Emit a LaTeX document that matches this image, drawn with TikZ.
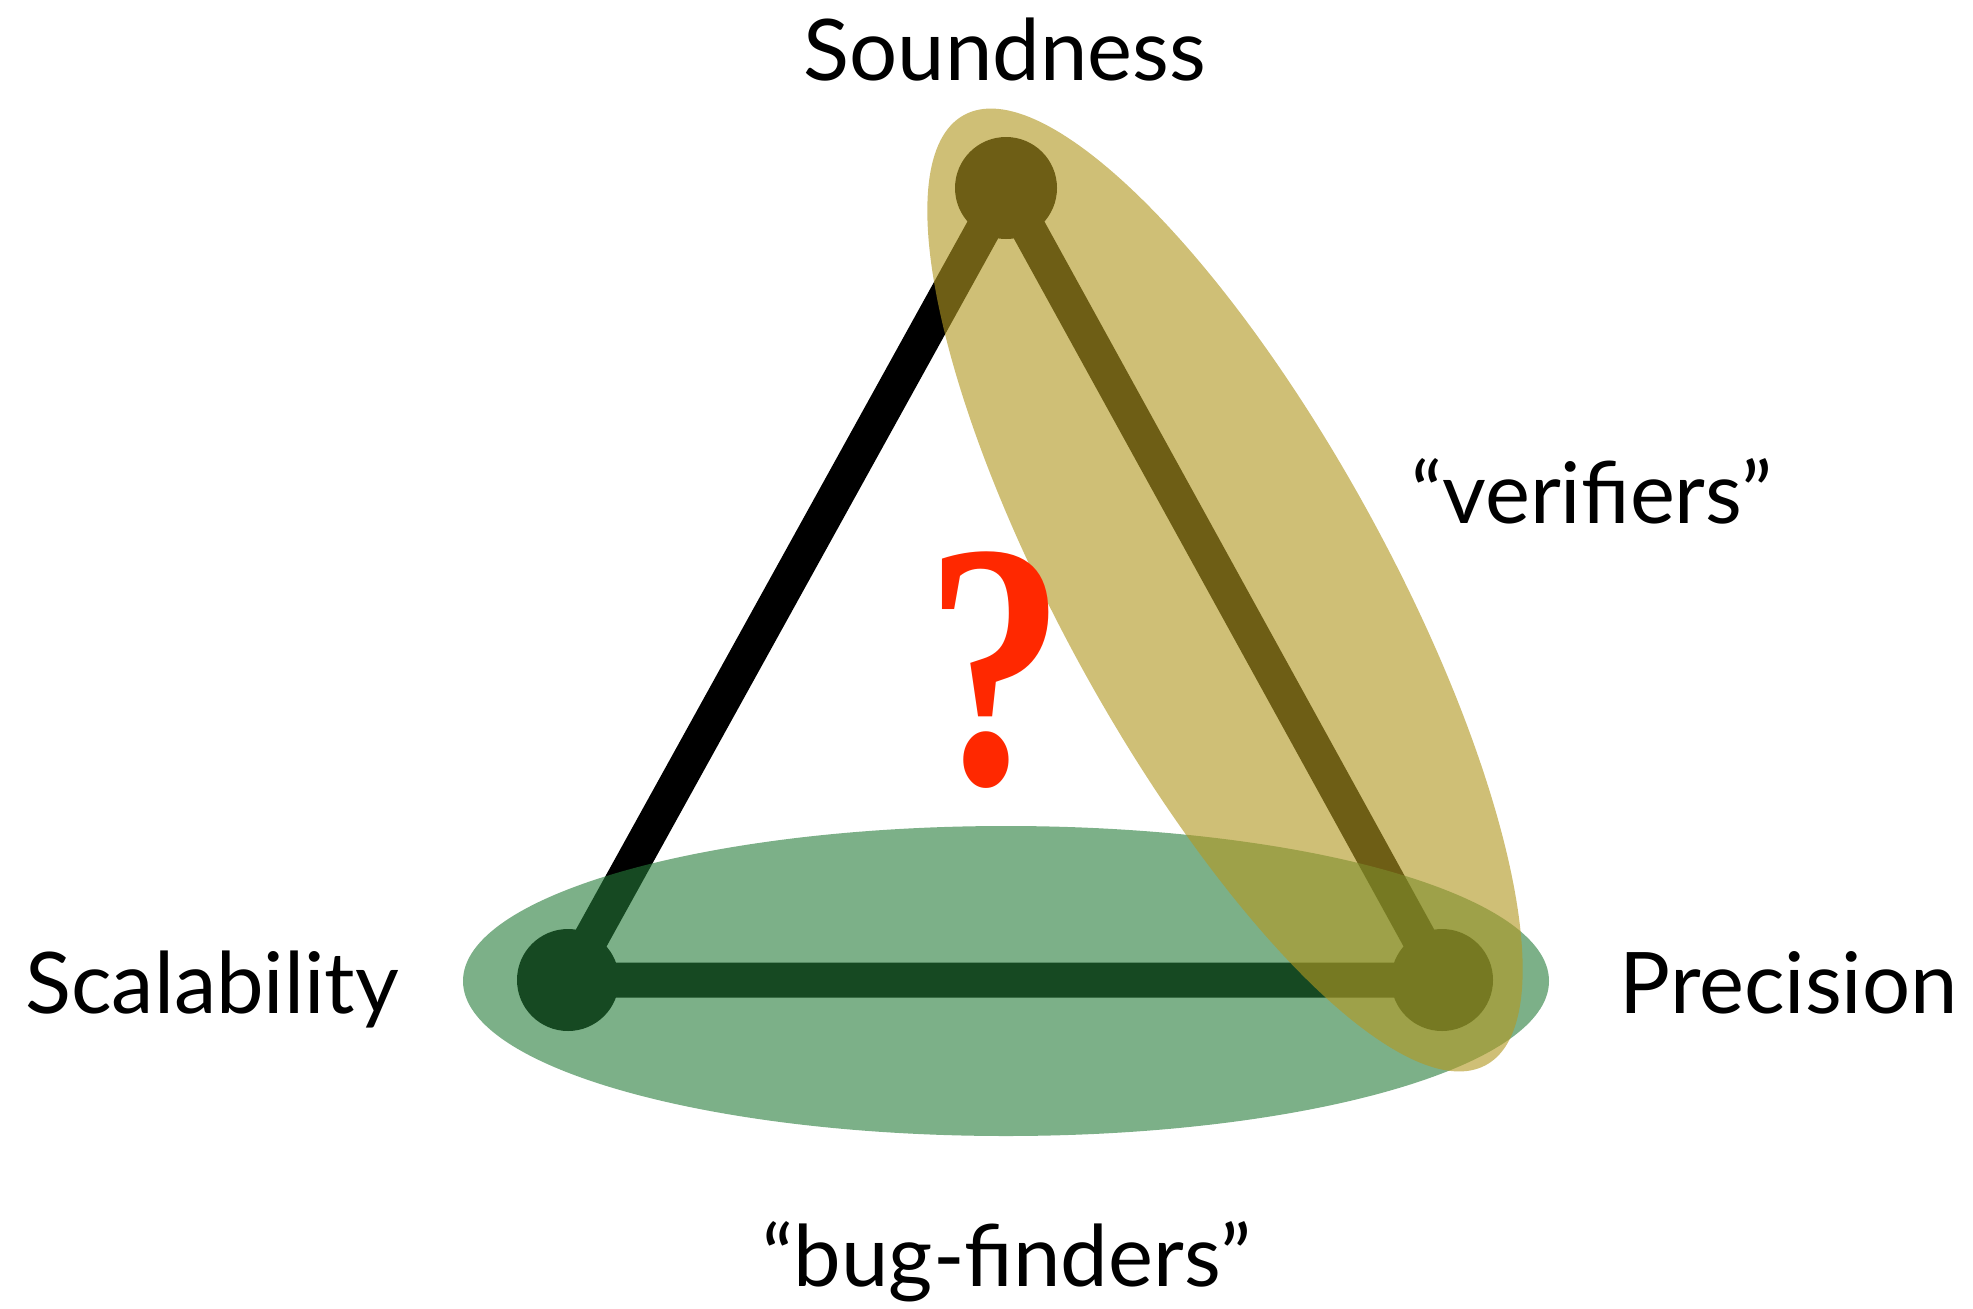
\documentclass[tikz,border=0pt]{standalone}
\usepackage{fontspec}
\usepackage{graphicx}
\newfontfamily\labelfont{Lato}
\newfontfamily\qmarkfont{Liberation Serif}
\usepackage{xcolor}
\definecolor{vergold}{RGB}{178,152,34}
\definecolor{buggreen}{RGB}{37,123,57}
\definecolor{qred}{RGB}{255,40,0}

\begin{document}
\begin{tikzpicture}[x=1pt, y=-1pt, vertex/.style={circle, fill=black, minimum size=102pt, inner sep=0pt}, side/.style={line width=35pt}, label/.style={anchor=base, inner sep=0pt, font=\labelfont\fontsize{85}{95}\selectfont}]
  \useasboundingbox (0,0) rectangle (1973,1309);
  \node[vertex] (sound) at (1006,188) {};
  \node[vertex] (scal) at (568,980) {};
  \node[vertex] (prec) at (1442,980) {};
  \draw[side] (sound.center) -- (scal.center) -- (prec.center) -- cycle;
  \fill[buggreen, opacity=0.6] (1006,981) ellipse [x radius=543pt, y radius=155pt];
  \fill[vergold, opacity=0.62, rotate around={-61.2:(1225,590)}] (1225,590) ellipse [x radius=542pt, y radius=163pt];
  \node[label] (soundtxt) at (1005,80) {Soundness};
  \node[label, anchor=base west] (scaltxt) at (25,1013) {Scalability};
  \node[label, anchor=base east] (prectxt) at (1958,1013) {Precision};
  \node[label] (vertxt) at (1592,523) {“verifiers”};
  \node[label] (bugtxt) at (1007,1286) {“bug-finders”};
  \node[anchor=base, inner sep=0pt, text=qred, font=\qmarkfont\bfseries\fontsize{350}{350}\selectfont] (qmark) at (995,783) {\scalebox{0.8}[1]{?}};
\end{tikzpicture}
\end{document}
